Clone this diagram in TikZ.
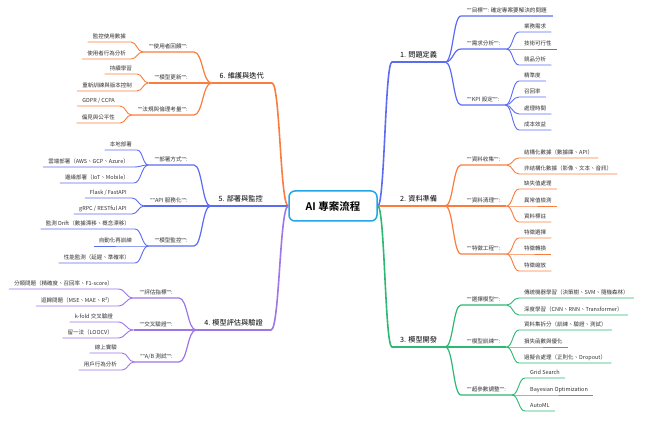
\documentclass[tikz,border=0pt]{standalone}
\usepackage{fontspec}
\setmainfont{Noto Sans CJK TC}[BoldFont={Noto Sans CJK TC Bold}]
\newfontfamily\latf{Noto Sans}
\newcommand\qq{{\latf""}}
\usetikzlibrary{calc}
\definecolor{cblue}{HTML}{5B6CF2}
\definecolor{corange}{HTML}{FA7D3E}
\definecolor{cgreen}{HTML}{2DB873}
\definecolor{cpurple}{HTML}{9D76E8}
\definecolor{ccenter}{HTML}{22A6E6}
\definecolor{ctext}{HTML}{333333}
\tikzset{
  conn/.style={to path={let \p1=(\tikztostart),\p2=(\tikztotarget) in
     .. controls ({0.5*\x1+0.5*\x2},\y1) and ({0.5*\x1+0.5*\x2},\y2) .. (\tikztotarget)}},
  mainln/.style={line width=1.6pt},
  lvln/.style={line width=1.2pt},
  leafln/.style={line width=0.9pt},
  centerbox/.style={draw=ccenter, line width=1.5pt, rounded corners=6pt, fill=white,
     minimum width=88pt, minimum height=30pt, font=\fontsize{10.5}{12}\selectfont\bfseries, text=black},
  mainlab/.style={font=\fontsize{7.2}{8}\selectfont, text=black, inner xsep=8pt, inner ysep=2.6pt,
     text height=5.8pt, text depth=1.4pt},
  lvlab/.style={font=\fontsize{5.6}{6}\selectfont, text=ctext, inner xsep=6pt, inner ysep=2.3pt,
     text height=4.6pt, text depth=1pt},
  leaflab/.style={font=\fontsize{5.5}{6}\selectfont, text=ctext, inner xsep=5pt, inner ysep=2.3pt,
     text height=4.5pt, text depth=1pt},
  R/.style={anchor=south west},
  L/.style={anchor=south east},
}
\begin{document}
\begin{tikzpicture}[x=1pt,y=-1pt]
\useasboundingbox (0,0) rectangle (654,422);
\fill[white] (0,0) rectangle (654,422);

\node[centerbox] (c) at (333,206) {AI 專案流程};

% ---------- right side ----------
\node[mainlab,R] (b1) at (392,62) {1. 問題定義};
\node[lvlab,R] (a11) at (461,16) {\qq 目標\qq: 確定專案要解決的問題};
\node[lvlab,R] (a12) at (461,49) {\qq 需求分析\qq:};
\node[leaflab,R] (x121) at (519,32) {業務需求};
\node[leaflab,R] (x122) at (519,49) {技術可行性};
\node[leaflab,R] (x123) at (519,65) {競品分析};
\node[lvlab,R] (a13) at (461,105) {\qq KPI 設定\qq:};
\node[leaflab,R] (x131) at (519,81) {精準度};
\node[leaflab,R] (x132) at (519,97) {召回率};
\node[leaflab,R] (x133) at (519,114) {處理時間};
\node[leaflab,R] (x134) at (519,130) {成本效益};

\node[mainlab,R] (b2) at (392,206) {2. 資料準備};
\node[lvlab,R] (a21) at (461,165) {\qq 資料收集\qq:};
\node[leaflab,R] (x211) at (519,158) {結構化數據（數據庫、API）};
\node[leaflab,R] (x212) at (519,174) {非結構化數據（影像、文本、音訊）};
\node[lvlab,R] (a22) at (461,206) {\qq 資料清理\qq:};
\node[leaflab,R] (x221) at (519,189) {缺失值處理};
\node[leaflab,R] (x222) at (519,206) {異常值檢測};
\node[leaflab,R] (x223) at (519,222) {資料標註};
\node[lvlab,R] (a23) at (461,254) {\qq 特徵工程\qq:};
\node[leaflab,R] (x231) at (519,238) {特徵選擇};
\node[leaflab,R] (x232) at (519,254) {特徵轉換};
\node[leaflab,R] (x233) at (519,271) {特徵縮放};

\node[mainlab,R] (b3) at (392,347) {3. 模型開發};
\node[lvlab,R] (a31) at (461,305) {\qq 選擇模型\qq:};
\node[leaflab,R] (x311) at (519,298) {傳統機器學習（決策樹、SVM、隨機森林）};
\node[leaflab,R] (x312) at (519,315) {深度學習（CNN、RNN、Transformer）};
\node[lvlab,R] (a32) at (461,347) {\qq 模型訓練\qq:};
\node[leaflab,R] (x321) at (519,330) {資料集拆分（訓練、驗證、測試）};
\node[leaflab,R] (x322) at (519,347) {損失函數與優化};
\node[leaflab,R] (x323) at (519,363) {過擬合處理（正則化、Dropout）};
\node[lvlab,R] (a33) at (461,395) {\qq 超參數調整\qq:};
\node[leaflab,R] (x331) at (525,378) {Grid Search};
\node[leaflab,R] (x332) at (525,395) {Bayesian Optimization};
\node[leaflab,R] (x333) at (525,411) {AutoML};

% ---------- left side ----------
\node[mainlab,L] (b6) at (272,83) {6. 維護與迭代};
\node[lvlab,L] (a61) at (194,52) {\qq 使用者回饋\qq:};
\node[leaflab,L] (x611) at (131,42) {監控使用數據};
\node[leaflab,L] (x612) at (131,59) {使用者行為分析};
\node[lvlab,L] (a62) at (194,83) {\qq 模型更新\qq:};
\node[leaflab,L] (x621) at (137,74) {持續學習};
\node[leaflab,L] (x622) at (137,91) {重新訓練與版本控制};
\node[lvlab,L] (a63) at (194,115) {\qq 法規與倫理考量\qq:};
\node[leaflab,L] (x631) at (120,106) {GDPR / CCPA};
\node[leaflab,L] (x632) at (120,123) {偏見與公平性};

\node[mainlab,L] (b5) at (271,206) {5. 部署與監控};
\node[lvlab,L] (a51) at (194,165) {\qq 部署方式\qq:};
\node[leaflab,L] (x511) at (137,150) {本地部署};
\node[leaflab,L] (x512) at (134,167) {雲端部署（AWS、GCP、Azure）};
\node[leaflab,L] (x513) at (134,183) {邊緣部署（IoT、Mobile）};
\node[lvlab,L] (a52) at (194,206) {\qq API 服務化\qq:};
\node[leaflab,L] (x521) at (132,198) {Flask / FastAPI};
\node[leaflab,L] (x522) at (132,214) {gRPC / RESTful API};
\node[lvlab,L] (a53) at (194,246) {\qq 模型監控\qq:};
\node[leaflab,L] (x531) at (135,229) {監測 Drift（數據漂移、概念漂移）};
\node[leaflab,L] (x532) at (137,246) {自動化再訓練};
\node[leaflab,L] (x533) at (135,263) {性能監測（延遲、準確率）};

\node[mainlab,L] (b4) at (271,330) {4. 模型評估與驗證};
\node[lvlab,L] (a41) at (179,298) {\qq 評估指標\qq:};
\node[leaflab,L] (x411) at (118,289) {分類問題（精確度、召回率、F1-score）};
\node[leaflab,L] (x412) at (118,306) {迴歸問題（MSE、MAE、R²）};
\node[lvlab,L] (a42) at (179,330) {\qq 交叉驗證\qq:};
\node[leaflab,L] (x421) at (118,322) {k-fold 交叉驗證};
\node[leaflab,L] (x422) at (118,338) {留一法（LOOCV）};
\node[lvlab,L] (a43) at (179,362) {\qq A/B 測試\qq:};
\node[leaflab,L] (x431) at (122,353) {線上實驗};
\node[leaflab,L] (x432) at (122,370) {用戶行為分析};

% ---------- connectors ----------
\foreach \p/\q/\col in {c/b1/cblue, c/b2/corange, c/b3/cgreen}
  \draw[\col,mainln] (\p.east) to[conn] (\q.south west) -- (\q.south east);
\foreach \p/\q/\col in {c/b6/corange, c/b5/cblue, c/b4/cpurple}
  \draw[\col,mainln] (\p.west) to[conn] (\q.south east) -- (\q.south west);

\foreach \p/\q/\col in {b1/a11/cblue, b1/a12/cblue, b1/a13/cblue,
    b2/a21/corange, b2/a22/corange, b2/a23/corange,
    b3/a31/cgreen, b3/a32/cgreen, b3/a33/cgreen}
  \draw[\col,lvln] (\p.south east) to[conn] (\q.south west) -- (\q.south east);
\foreach \p/\q/\col in {b6/a61/corange, b6/a62/corange, b6/a63/corange,
    b5/a51/cblue, b5/a52/cblue, b5/a53/cblue,
    b4/a41/cpurple, b4/a42/cpurple, b4/a43/cpurple}
  \draw[\col,lvln] (\p.south west) to[conn] (\q.south east) -- (\q.south west);

\foreach \p/\q/\col in {a12/x121/cblue, a12/x122/cblue, a12/x123/cblue,
    a13/x131/cblue, a13/x132/cblue, a13/x133/cblue, a13/x134/cblue,
    a21/x211/corange, a21/x212/corange,
    a22/x221/corange, a22/x222/corange, a22/x223/corange,
    a23/x231/corange, a23/x232/corange, a23/x233/corange,
    a31/x311/cgreen, a31/x312/cgreen,
    a32/x321/cgreen, a32/x322/cgreen, a32/x323/cgreen,
    a33/x331/cgreen, a33/x332/cgreen, a33/x333/cgreen}
  \draw[\col,leafln] (\p.south east) to[conn] (\q.south west) -- (\q.south east);
\foreach \p/\q/\col in {a61/x611/corange, a61/x612/corange,
    a62/x621/corange, a62/x622/corange,
    a63/x631/corange, a63/x632/corange,
    a51/x511/cblue, a51/x512/cblue, a51/x513/cblue,
    a52/x521/cblue, a52/x522/cblue,
    a53/x531/cblue, a53/x532/cblue, a53/x533/cblue,
    a41/x411/cpurple, a41/x412/cpurple,
    a42/x421/cpurple, a42/x422/cpurple,
    a43/x431/cpurple, a43/x432/cpurple}
  \draw[\col,leafln] (\p.south west) to[conn] (\q.south east) -- (\q.south west);
\end{tikzpicture}
\end{document}
